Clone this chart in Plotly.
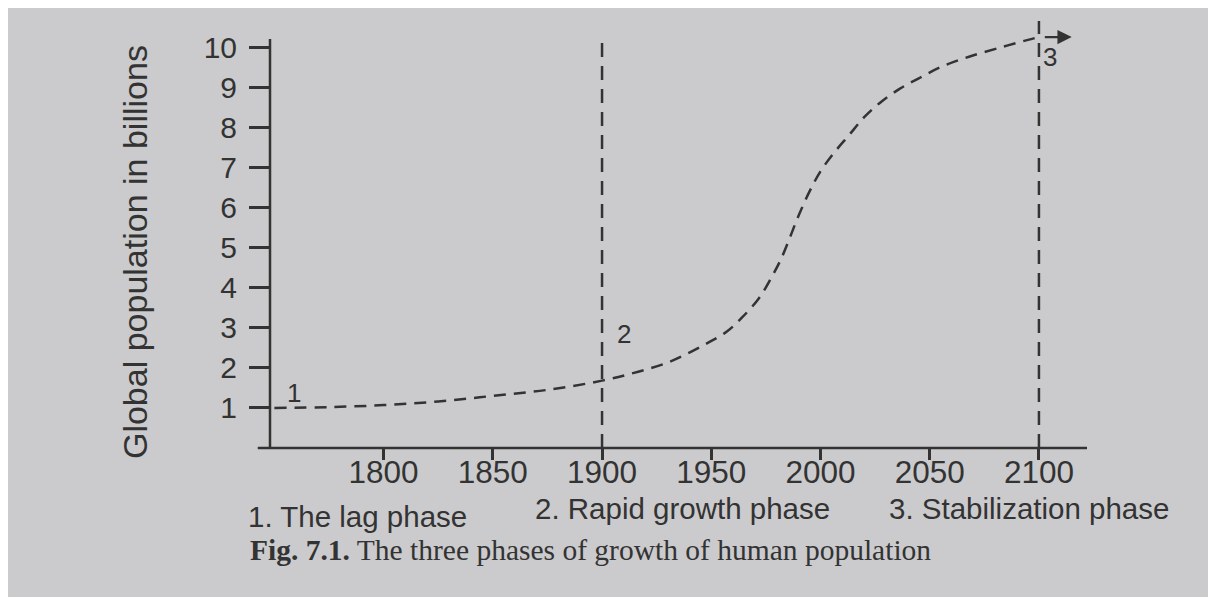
import plotly.graph_objects as go

# ---- data ----
years = [1750, 1775, 1800, 1825, 1850, 1875, 1900, 1917, 1930, 1940, 1949, 1957, 1964,
         1972, 1978, 1982, 1986, 1990, 1995, 2000, 2006, 2013, 2020, 2027, 2036, 2045,
         2055, 2068, 2083, 2095, 2100]
population = [1.0, 1.02, 1.07, 1.16, 1.3, 1.45, 1.68, 1.91, 2.13, 2.38, 2.64, 2.9, 3.25,
              3.75, 4.3, 4.72, 5.25, 5.8, 6.4, 6.9, 7.35, 7.8, 8.25, 8.6, 8.95, 9.22,
              9.5, 9.76, 10.0, 10.18, 10.25]
x_ticks = [1800, 1850, 1900, 1950, 2000, 2050, 2100]
y_ticks = [1, 2, 3, 4, 5, 6, 7, 8, 9, 10]
phase_years = [1900, 2100]
phase_tops = [10.3, 10.65]
phase_marks = ["1", "2", "3"]
phase_mark_x = [1759, 1910, 2105]
phase_mark_y = [1.38, 2.85, 9.75]
phase_names = ["1. The lag phase", "2. Rapid growth phase", "3. Stabilization phase"]

INK = "#333333"
BG = "#cbcbcd"
FONT = "Liberation Sans, Arial, sans-serif"

fig = go.Figure()

# population curve
fig.add_trace(go.Scatter(
    x=years, y=population, mode="lines", line_shape="spline",
    line=dict(color=INK, width=2.5, dash="12px,8px", smoothing=1.0),
    hoverinfo="skip", showlegend=False))

# phase dividers
for yr, top in zip(phase_years, phase_tops):
    fig.add_trace(go.Scatter(
        x=[yr, yr], y=[0, top], mode="lines",
        line=dict(color=INK, width=2.5, dash="14px,9px"), hoverinfo="skip", showlegend=False))

# continuation arrow past 2100
fig.add_annotation(x=2115, y=population[-1], ax=2102, ay=population[-1],
                   xref="x", yref="y", axref="x", ayref="y", text="",
                   showarrow=True, arrowhead=2, arrowsize=1.3, arrowwidth=2.2, arrowcolor=INK)

# axis lines
fig.add_shape(type="line", xref="paper", yref="y", x0=0, x1=0, y0=0, y1=10.2,
              line=dict(color=INK, width=2.5))
fig.add_shape(type="line", xref="paper", yref="paper", x0=-0.015, x1=1, y0=0, y1=0,
              line=dict(color=INK, width=2.5))

# phase numbers on chart
for t, xx, yy in zip(phase_marks, phase_mark_x, phase_mark_y):
    fig.add_annotation(x=xx, y=yy, xref="x", yref="y", text=t, showarrow=False,
                       xanchor="center", yanchor="middle",
                       font=dict(family=FONT, size=26, color=INK))

# phase names below axis
name_x = [0.1065, 0.5055, 0.9286]
name_y = [-0.159, -0.139, -0.139]
for t, xx, yy in zip(phase_names, name_x, name_y):
    fig.add_annotation(x=xx, y=yy, xref="paper", yref="paper", text=t, showarrow=False,
                       xanchor="center", yanchor="middle",
                       font=dict(family=FONT, size=29.5, color=INK))

# caption
fig.add_annotation(x=-0.027, y=-0.236, xref="paper", yref="paper", xanchor="left", yanchor="middle",
                   text="<b>Fig. 7.1.</b> The three phases of growth of human population",
                   showarrow=False,
                   font=dict(family="Liberation Serif, Times New Roman, serif", size=29.5, color=INK))

# y title
fig.add_annotation(x=-0.165, y=0.453, xref="paper", yref="paper", textangle=-90,
                   xanchor="center", yanchor="middle",
                   text="Global population in billions", showarrow=False,
                   font=dict(family=FONT, size=34, color=INK))

fig.update_layout(
    width=1208, height=589,
    margin=dict(l=262, r=129, t=7, b=149, pad=0),
    paper_bgcolor=BG, plot_bgcolor="rgba(0,0,0,0)",
    font=dict(family=FONT, color=INK),
    xaxis=dict(range=[1748, 2122], tickvals=x_ticks, ticks="outside", ticklen=11, tickwidth=2.5,
               tickcolor=INK, showgrid=False, zeroline=False, showline=False,
               tickfont=dict(size=31.5, color=INK), ticklabelstandoff=-15),
    yaxis=dict(range=[0, 10.8], tickvals=y_ticks, ticks="outside", ticklen=20, tickwidth=2.5,
               tickcolor=INK, showgrid=False, zeroline=False, showline=False,
               tickfont=dict(size=30, color=INK), ticklabelstandoff=6),
)

fig.write_html("out.html")
